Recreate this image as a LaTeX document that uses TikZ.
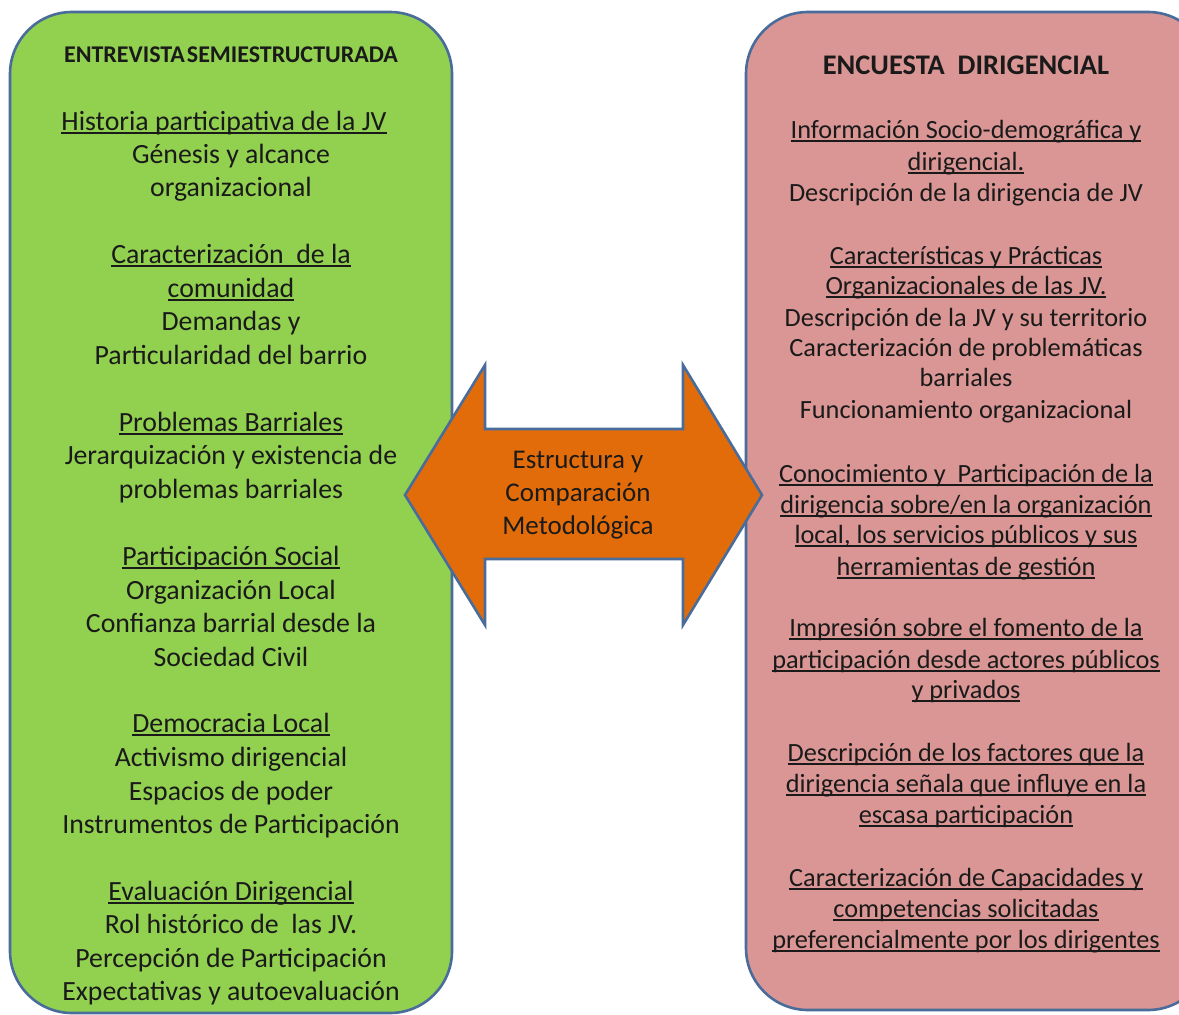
\documentclass[tikz,border=0pt]{standalone}
\usepackage{fontspec}
\setmainfont{Carlito}
\definecolor{boxgreen}{HTML}{92D050}
\definecolor{boxpink}{HTML}{D99694}
\definecolor{arroworange}{HTML}{E36C0A}
\definecolor{edgeblue}{HTML}{4A6C9B}
\definecolor{txt}{HTML}{1A1A1A}
\newcommand\ulx[1]{\setbox0\hbox{#1}\rlap{\rule[-3.5pt]{\wd0}{1.8pt}}\box0}
\tikzset{
  panel/.style={draw=edgeblue, line width=2.6pt, rounded corners=62pt},
  lt/.style={anchor=base, inner sep=0pt, text=txt, font=\fontsize{27.8}{32}\selectfont},
  rt/.style={anchor=base, inner sep=0pt, text=txt, font=\fontsize{26.3}{30}\selectfont},
  arrowtxt/.style={anchor=base, inner sep=0pt, text=txt, font=\fontsize{27}{31}\selectfont},
  hd/.style={anchor=base, inner sep=0pt, text=txt, font=\bfseries\fontsize{24}{28}\selectfont},
}
\begin{document}
\begin{tikzpicture}[x=1pt,y=-1pt]
\useasboundingbox (0,0) rectangle (1179,1015);
\clip (0,0) rectangle (1179,1015);
% panels
\draw[panel, fill=boxgreen] (10,12) rectangle (452,1013);
\draw[panel, fill=boxpink] (746,12) rectangle (1210,1010);
% double arrow
\draw[draw=edgeblue, line width=2.6pt, fill=arroworange, line join=miter]
  (405,495) -- (485,365) -- (485,429) -- (683,429) -- (683,365) -- (762,495)
  -- (683,625) -- (683,559) -- (485,559) -- (485,625) -- cycle;
% left column
\def\lx{231}
\node[hd] (lh) at (\lx,62) {ENTREVISTA\hspace{2pt}SEMIESTRUCTURADA};
\node[lt] (l1) at (224,130) {\ulx{Historia participativa de la JV}};
\node[lt] (l2) at (\lx,163) {Génesis y alcance};
\node[lt] (l3) at (\lx,196) {organizacional};
\node[lt] (l4) at (\lx,263) {\ulx{Caracterización\ \ de la}};
\node[lt] (l5) at (\lx,297) {\ulx{comunidad}};
\node[lt] (l6) at (\lx,330) {Demandas y};
\node[lt] (l7) at (\lx,364) {Particularidad del barrio};
\node[lt] (l8) at (\lx,431) {\ulx{Problemas Barriales}};
\node[lt] (l9) at (\lx,464) {Jerarquización y existencia de};
\node[lt] (l10) at (\lx,498) {problemas barriales};
\node[lt] (l11) at (\lx,565) {\ulx{Participación Social}};
\node[lt] (l12) at (\lx,599) {Organización Local};
\node[lt] (l13) at (\lx,632) {Confianza barrial desde la};
\node[lt] (l14) at (\lx,666) {Sociedad Civil};
\node[lt] (l15) at (\lx,732) {\ulx{Democracia Local}};
\node[lt] (l16) at (\lx,766) {Activismo dirigencial};
\node[lt] (l17) at (\lx,800) {Espacios de poder};
\node[lt] (l18) at (\lx,833) {Instrumentos de Participación};
\node[lt] (l19) at (\lx,900) {\ulx{Evaluación Dirigencial}};
\node[lt] (l20) at (\lx,933) {Rol histórico de\ \ las JV.};
\node[lt] (l21) at (\lx,967) {Percepción de Participación};
\node[lt] (l22) at (\lx,1000) {Expectativas y autoevaluación};
% right column
\def\rx{966}
\node[hd] (rh) at (\rx,74) {\fontsize{28.4}{32}\selectfont ENCUESTA\ \ DIRIGENCIAL};
\node[rt] (r1) at (\rx,138) {\ulx{Información Socio-demográfica y}};
\node[rt] (r2) at (\rx,170) {\ulx{dirigencial.}};
\node[rt] (r3) at (\rx,201) {Descripción de la dirigencia de JV};
\node[rt] (r4) at (\rx,264) {\ulx{Características y Prácticas}};
\node[rt] (r5) at (\rx,294) {\ulx{Organizacionales de las JV.}};
\node[rt] (r6) at (\rx,326) {Descripción de la JV y su territorio};
\node[rt] (r7) at (\rx,356) {Caracterización de problemáticas};
\node[rt] (r8) at (\rx,386) {barriales};
\node[rt] (r9) at (\rx,418) {Funcionamiento organizacional};
\node[rt] (r10) at (\rx,482) {\ulx{Conocimiento y\ \ Participación de la}};
\node[rt] (r11) at (\rx,513) {\ulx{dirigencia sobre/en la organización}};
\node[rt] (r12) at (\rx,543) {\ulx{local, los servicios públicos y sus}};
\node[rt] (r13) at (\rx,575) {\ulx{herramientas de gestión}};
\node[rt] (r14) at (\rx,636) {\ulx{Impresión sobre el fomento de la}};
\node[rt] (r15) at (\rx,668) {\ulx{participación desde actores públicos}};
\node[rt] (r16) at (\rx,698) {\ulx{y privados}};
\node[rt] (r17) at (\rx,761) {\ulx{Descripción de los factores que la}};
\node[rt] (r18) at (\rx,792) {\ulx{dirigencia señala que influye en la}};
\node[rt] (r19) at (\rx,823) {\ulx{escasa participación}};
\node[rt] (r20) at (\rx,886) {\ulx{Caracterización de Capacidades y}};
\node[rt] (r21) at (\rx,917) {\ulx{competencias solicitadas}};
\node[rt] (r22) at (\rx,948) {\ulx{preferencialmente por los dirigentes}};
% arrow text
\node[arrowtxt] (a1) at (578,468) {Estructura y};
\node[arrowtxt] (a2) at (578,501) {Comparación};
\node[arrowtxt] (a3) at (578,534) {Metodológica};
\end{tikzpicture}
\end{document}
